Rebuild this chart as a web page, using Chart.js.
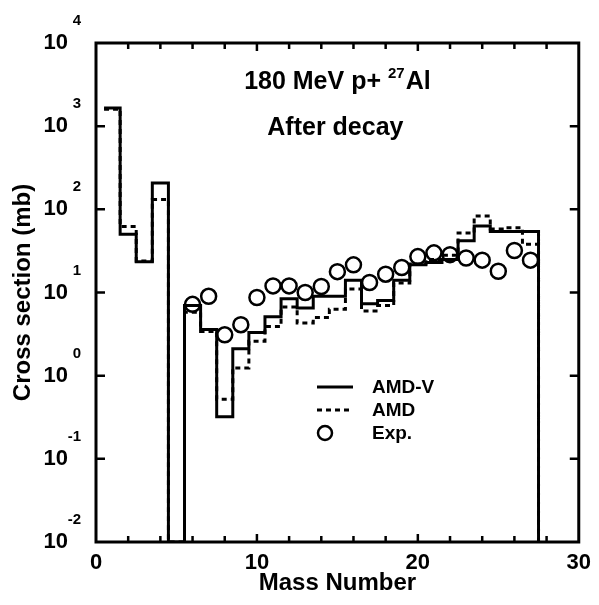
<!DOCTYPE html>
<html><head><meta charset="utf-8">
<script src="https://cdn.jsdelivr.net/npm/chart.js@4.4.1/dist/chart.umd.min.js"></script>
<style>html,body{margin:0;padding:0;background:#fff}canvas{display:block}</style>
</head><body>
<canvas id="c" width="599" height="605"></canvas>
<script>
// ---- data ----
const massNumbers = [1,2,3,4,5,6,7,8,9,10,11,12,13,14,15,16,17,18,19,20,21,22,23,24,25,26,27];
const amdV = [1650, 50, 23.5, 208, null, 7.0, 3.6, 0.32, 2.1, 3.3, 5.1, 8.4, 6.5, 9.0, 9.0, 14, 7.3, 8.0, 14, 21.5, 23, 25, 42, 63, 54, 54, 54];
const amd  = [1600, 62, 24, 131, null, 5.8, 3.4, 0.52, 1.24, 2.6, 3.9, 6.7, 4.3, 5.0, 6.3, 11, 6.0, 7.0, 13, 22, 25, 28, 52, 83, 58, 60, 38];
const expMass   = [6,7,8,9,10,11,12,13,14,15,16,17,18,19,20,21,22,23,24,25,26,27];
const expValues = [7.2, 9.0, 3.1, 4.1, 8.7, 12, 12, 10, 11.8, 17.8, 21.5, 13.2, 16.6, 20, 27, 30, 28.5, 26, 24.5, 18, 32, 24.5];
const xTickLabels = ['0','10','20','30'];
const yExponents = ['-2','-1','0','1','2','3','4'];
const seriesNames = ['AMD-V','AMD','Exp.'];
const titleMain = '180 MeV p+ ';
const titleSup = '27';
const titleEnd = 'Al';
const subtitle = 'After decay';
const xTitle = 'Mass Number';
const yTitle = 'Cross section (mb)';

const xMin = 0, xMax = 30, yMin = 1e-2, yMax = 1e4;
const FONT = '"Liberation Sans", Arial, Helvetica, sans-serif';

function stepPoints(masses, vals) {
  const pts = [];
  masses.forEach((m, i) => {
    const v = vals[i] == null ? yMin : vals[i];
    pts.push({x: m - 0.5, y: v}, {x: m + 0.5, y: v});
  });
  pts.push({x: masses[masses.length - 1] + 0.5, y: yMin});
  return pts;
}

const decor = {
  id: 'decor',
  afterDraw(chart) {
    const {ctx, chartArea: a, scales: {x, y}} = chart;
    ctx.save();
    ctx.strokeStyle = '#000';
    ctx.fillStyle = '#000';
    ctx.lineCap = 'butt';
    // frame
    ctx.lineWidth = 3;
    ctx.strokeRect(a.left, a.top, a.right - a.left, a.bottom - a.top);
    // inward ticks
    ctx.lineWidth = 2.5;
    x.ticks.forEach(t => {
      const px = x.getPixelForValue(t.value);
      const len = (t.value % 10 === 0) ? 8 : 6;
      if (px <= a.left + 1 || px >= a.right - 1) return;
      ctx.beginPath();
      ctx.moveTo(px, a.bottom); ctx.lineTo(px, a.bottom - len);
      ctx.moveTo(px, a.top); ctx.lineTo(px, a.top + len);
      ctx.stroke();
    });
    y.ticks.forEach(t => {
      const py = y.getPixelForValue(t.value);
      if (py <= a.top + 1 || py >= a.bottom - 1) return;
      ctx.beginPath();
      ctx.moveTo(a.left, py); ctx.lineTo(a.left + 9, py);
      ctx.moveTo(a.right, py); ctx.lineTo(a.right - 9, py);
      ctx.stroke();
    });
    // exponents of y tick labels
    ctx.font = 'bold 15px ' + FONT;
    ctx.textAlign = 'right';
    ctx.textBaseline = 'middle';
    yExponents.forEach(e => {
      const py = y.getPixelForValue(Math.pow(10, Number(e)));
      ctx.fillText(e, 81, py - 22);
    });
    // in-plot title
    const cx = (a.left + a.right) / 2;
    ctx.textBaseline = 'alphabetic';
    ctx.textAlign = 'left';
    ctx.font = 'bold 25px ' + FONT;
    const w1 = ctx.measureText(titleMain).width;
    const w3 = ctx.measureText(titleEnd).width;
    ctx.font = 'bold 15px ' + FONT;
    const w2 = ctx.measureText(titleSup).width + 1;
    let sx = cx - (w1 + w2 + w3) / 2;
    ctx.font = 'bold 25px ' + FONT;
    ctx.fillText(titleMain, sx, 89);
    ctx.font = 'bold 15px ' + FONT;
    ctx.fillText(titleSup, sx + w1, 78);
    ctx.font = 'bold 25px ' + FONT;
    ctx.fillText(titleEnd, sx + w1 + w2, 89);
    ctx.textAlign = 'center';
    ctx.fillText(subtitle, cx - 2, 135);
    // legend
    const lx0 = 317, lx1 = 353, tx = 372;
    const rows = [387, 410, 433];
    ctx.lineWidth = 3;
    ctx.beginPath(); ctx.moveTo(lx0, rows[0]); ctx.lineTo(lx1, rows[0]); ctx.stroke();
    ctx.setLineDash([5, 4]);
    ctx.beginPath(); ctx.moveTo(lx0, rows[1]); ctx.lineTo(lx1, rows[1]); ctx.stroke();
    ctx.setLineDash([]);
    ctx.lineWidth = 2.5;
    ctx.beginPath(); ctx.arc(325, rows[2], 7, 0, Math.PI * 2); ctx.stroke();
    ctx.font = 'bold 19px ' + FONT;
    ctx.textAlign = 'left';
    ctx.textBaseline = 'middle';
    seriesNames.forEach((n, i) => ctx.fillText(n, tx, rows[i] + 1));
    ctx.restore();
  }
};

new Chart(document.getElementById('c'), {
  type: 'line',
  data: {
    datasets: [
      {label: seriesNames[0], data: stepPoints(massNumbers, amdV), borderColor: '#000', borderWidth: 3,
       pointRadius: 0, tension: 0, fill: false, borderJoinStyle: 'miter'},
      {label: seriesNames[1], data: stepPoints(massNumbers, amd), borderColor: '#000', borderWidth: 3,
       borderDash: [5, 4], pointRadius: 0, tension: 0, fill: false},
      {label: seriesNames[2], data: expMass.map((m, i) => ({x: m, y: expValues[i]})), showLine: false,
       pointRadius: 7.5, pointBorderWidth: 2.5, pointBorderColor: '#000', pointBackgroundColor: 'rgba(0,0,0,0)',
       pointHoverRadius: 7.5}
    ]
  },
  options: {
    responsive: false,
    animation: false,
    devicePixelRatio: 1,
    events: [],
    layout: {padding: {left: 0, top: 43, right: 19, bottom: 0}},
    plugins: {legend: {display: false}, tooltip: {enabled: false}, title: {display: false}},
    scales: {
      x: {
        type: 'linear', min: xMin, max: xMax,
        grid: {display: false, drawTicks: false}, border: {display: false},
        ticks: {stepSize: 2, autoSkip: false, maxRotation: 0, padding: 8, color: '#000',
          font: {family: FONT, size: 22, weight: 'bold'},
          callback: v => xTickLabels.includes(String(v)) ? String(v) : ''},
        title: {display: true, text: xTitle, color: '#000', padding: {top: 0, bottom: 7},
          font: {family: FONT, size: 24, weight: 'bold'}},
        afterFit: s => { s.height = 63; }
      },
      y: {
        type: 'logarithmic', min: yMin, max: yMax,
        grid: {display: false, drawTicks: false}, border: {display: false},
        afterBuildTicks: s => { s.ticks = yExponents.map(e => ({value: Math.pow(10, Number(e))})); },
        ticks: {padding: 28, color: '#000', font: {family: FONT, size: 22, weight: 'bold'},
          callback: () => '10'},
        title: {display: true, text: yTitle, color: '#000', padding: {top: 9, bottom: 0},
          font: {family: FONT, size: 24, weight: 'bold'}},
        afterFit: s => { s.width = 96; }
      }
    }
  },
  plugins: [decor]
});
</script>
</body></html>
